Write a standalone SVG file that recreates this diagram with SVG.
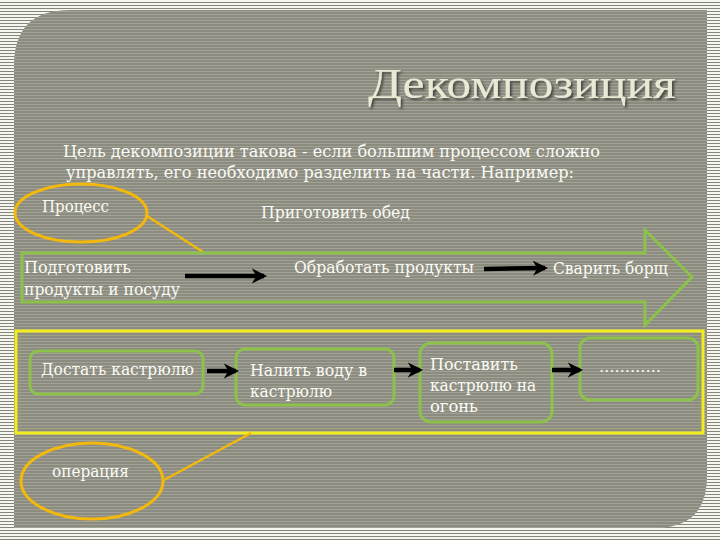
<svg xmlns="http://www.w3.org/2000/svg" width="720" height="540" viewBox="0 0 720 540">
<defs>
<pattern id="outer" width="720" height="3" patternUnits="userSpaceOnUse">
<rect width="720" height="3" fill="#f6f6f0"/>
<rect y="2" width="720" height="1" fill="#85857a"/>
</pattern>
<pattern id="inner" width="720" height="3" patternUnits="userSpaceOnUse">
<rect width="720" height="3" fill="#8b8b80"/>
<rect y="2" width="720" height="1" fill="#a2a296"/>
</pattern>
<marker id="ah" viewBox="0 0 10 10" refX="8" refY="5" markerWidth="3.4" markerHeight="3.4" orient="auto" markerUnits="strokeWidth">
<path d="M0,0 L10,5 L0,10 L3,5 Z" fill="#000"/>
</marker>
<filter id="sh" x="-5%" y="-20%" width="110%" height="140%">
<feDropShadow dx="2" dy="2" stdDeviation="1" flood-color="#2a2a20" flood-opacity="0.7"/>
</filter>
</defs>
<style>
.t{font-family:"DejaVu Serif","Liberation Serif",serif;fill:#fbfbf5;font-size:16px}
.title{font-family:"Liberation Serif","DejaVu Serif",serif;fill:#e8ead6;font-size:42px}
.box{fill:none;stroke:#8cc24a;stroke-width:3}
.ell{fill:none;stroke:#f2b90c;stroke-width:3}
.call{stroke:#f2b90c;stroke-width:2.5}
.arr{stroke:#000;stroke-width:4.5;fill:none;marker-end:url(#ah)}
</style>
<rect width="720" height="540" fill="url(#outer)"/>
<path d="M14,66 Q14,10 70,10 L707,10 L707,476 Q707,528 655,528 L14,528 Z" fill="url(#inner)"/>

<g id="title">
<text class="title" x="368" y="98" textLength="308" lengthAdjust="spacingAndGlyphs" filter="url(#sh)">Декомпозиция</text>
</g>
<g id="intro">
<text class="t" x="63" y="157" textLength="537" lengthAdjust="spacingAndGlyphs">Цель декомпозиции такова - если большим процессом сложно</text>
<text class="t" x="66" y="178" textLength="508" lengthAdjust="spacingAndGlyphs">управлять, его необходимо разделить на части. Например:</text>
</g>

<g id="process-callout">
<ellipse class="ell" cx="81" cy="213" rx="66" ry="29"/>
<line class="call" x1="147" y1="216" x2="203" y2="252"/>
<text class="t" x="42" y="212" textLength="67" lengthAdjust="spacingAndGlyphs">Процесс</text>
</g>

<g id="process-label">
<text class="t" x="261" y="218" textLength="149" lengthAdjust="spacingAndGlyphs">Приготовить обед</text>
</g>

<g id="process-arrow">
<path class="box" d="M22,253 L645,253 L645,230 L692,277 L645,325 L645,302 L22,302 Z"/>
</g>

<g id="step-prepare">
<text class="t" x="24" y="273" textLength="107" lengthAdjust="spacingAndGlyphs">Подготовить</text>
<text class="t" x="24" y="295" textLength="156" lengthAdjust="spacingAndGlyphs">продукты и посуду</text>
</g>
<g id="step-process">
<text class="t" x="294" y="273" textLength="180" lengthAdjust="spacingAndGlyphs">Обработать продукты</text>
</g>
<g id="step-cook">
<text class="t" x="553" y="274" textLength="115" lengthAdjust="spacingAndGlyphs">Сварить борщ</text>
</g>

<g id="operations-frame">
<rect x="16" y="331" width="687" height="102" fill="none" stroke="#f2ee1e" stroke-width="3"/>
<rect x="20" y="335" width="679" height="94" fill="none" stroke="#a0a070" stroke-width="0.7"/>
</g>

<g id="op1">
<rect class="box" x="30" y="351" width="173" height="43" rx="8"/>
<text class="t" x="41" y="375" textLength="153" lengthAdjust="spacingAndGlyphs">Достать кастрюлю</text>
</g>
<g id="op2">
<rect class="box" x="236" y="349" width="158" height="56" rx="9"/>
<text class="t" x="250" y="376" textLength="117" lengthAdjust="spacingAndGlyphs">Налить воду в</text>
<text class="t" x="250" y="397" textLength="82" lengthAdjust="spacingAndGlyphs">кастрюлю</text>
</g>
<g id="op3">
<rect class="box" x="420" y="343" width="132" height="79" rx="11"/>
<text class="t" x="430" y="370" textLength="88" lengthAdjust="spacingAndGlyphs">Поставить</text>
<text class="t" x="430" y="391" textLength="106" lengthAdjust="spacingAndGlyphs">кастрюлю на</text>
<text class="t" x="430" y="412" textLength="48" lengthAdjust="spacingAndGlyphs">огонь</text>
</g>
<g id="op4">
<rect class="box" x="580" y="338" width="118" height="62" rx="10"/>
<text class="t" x="599" y="372" textLength="62" lengthAdjust="spacingAndGlyphs">…………</text>
</g>

<g id="operation-callout">
<ellipse class="ell" cx="92" cy="481" rx="71" ry="38"/>
<line class="call" x1="164" y1="480" x2="251" y2="433"/>
<text class="t" x="52" y="477" textLength="77" lengthAdjust="spacingAndGlyphs">операция</text>
</g>

<g id="connectors">
<line class="arr" x1="185" y1="276" x2="264" y2="276"/>
<line class="arr" x1="484" y1="269" x2="545" y2="268"/>
<line class="arr" x1="207" y1="371" x2="236" y2="371"/>
<line class="arr" x1="394" y1="370" x2="420" y2="370"/>
<line class="arr" x1="552" y1="370" x2="580" y2="370"/>
</g>
</svg>
